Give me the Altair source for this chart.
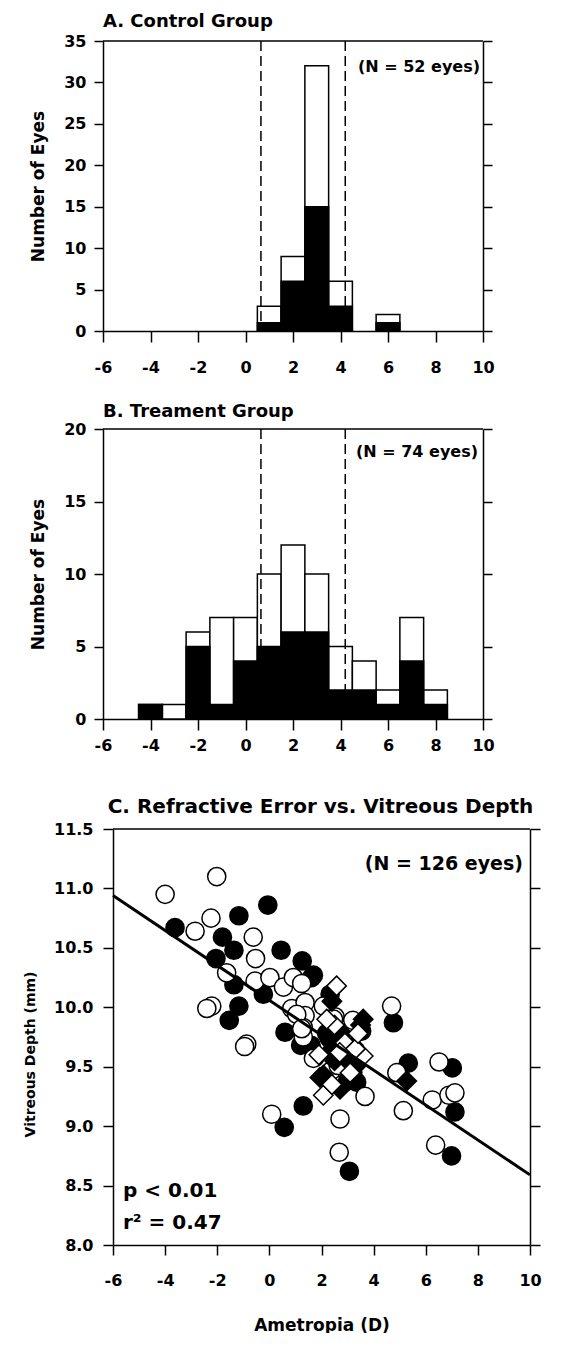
import altair as alt
import pandas as pd

FONT = "DejaVu Sans"

# ---------------- data ----------------
x_ticks = [-6, -4, -2, 0, 2, 4, 6, 8, 10]
cut_lines = [0.65, 4.2]

# Panel A: control group histogram (bin centres, total eyes, black part)
a_centers = [1, 2, 3, 4, 6]
a_total = [3, 9, 32, 6, 2]
a_black = [1, 6, 15, 3, 1]
a_yticks = [0, 5, 10, 15, 20, 25, 30, 35]

# Panel B: treatment group histogram
b_centers = [-4, -3, -2, -1, 0, 1, 2, 3, 4, 5, 6, 7, 8]
b_total = [1, 1, 6, 7, 7, 10, 12, 10, 5, 4, 2, 7, 2]
b_black = [1, 0, 5, 1, 4, 5, 6, 6, 2, 2, 1, 4, 1]
b_yticks = [0, 5, 10, 15, 20]

# Panel C: scatter
c_yticks = [8.0, 8.5, 9.0, 9.5, 10.0, 10.5, 11.0, 11.5]
fc_x = [-3.62, -1.17, -0.06, -1.80, -1.36, -2.05, 0.45, 1.26, 1.62, -1.36, -0.23, 2.33,
        -1.17, -1.54, 4.76, 5.33, 7.02, 0.60, 2.20, 3.54, 1.69, 2.26, 1.30, 0.57, 3.07,
        3.35, 7.12, 6.99, 1.60, 2.40, 1.20, 3.00, 2.30, 2.90, 3.20]
fc_y = [10.67, 10.77, 10.86, 10.59, 10.48, 10.41, 10.48, 10.39, 10.25, 10.19, 10.11, 10.11,
        10.01, 9.89, 9.87, 9.53, 9.49, 9.79, 9.78, 9.80, 10.27, 9.78, 9.17, 8.99, 8.62,
        9.37, 9.12, 8.75, 9.68, 9.63, 9.68, 9.38, 9.74, 9.55, 9.45]
oc_x = [-4.00, -2.02, -2.85, -2.24, -0.62, -0.53, -1.64, -0.55, 0.02, 0.54, 0.92, 1.24,
        -2.21, -2.40, -0.87, -0.95, 4.69, 6.51, 4.89, 0.86, 1.37, 2.07, 2.52, 3.20, 1.37,
        1.30, 1.30, 1.05, 2.46, 1.24, 1.75, 1.69, 2.58, 2.39, 2.64, 0.09, 2.71, 2.68, 3.67,
        5.14, 6.25, 6.89, 7.12, 6.38]
oc_y = [10.95, 11.10, 10.64, 10.75, 10.59, 10.41, 10.29, 10.22, 10.25, 10.17, 10.25, 10.20,
        10.01, 9.99, 9.69, 9.67, 10.01, 9.54, 9.45, 9.99, 10.04, 10.01, 9.92, 9.89, 9.93,
        9.83, 9.75, 9.94, 9.90, 9.82, 9.58, 9.57, 9.52, 9.47, 9.51, 9.10, 9.06, 8.78, 9.25,
        9.13, 9.22, 9.26, 9.28, 8.84]
fd_x = [2.07, 1.94, 2.71, 3.22, 3.50, 2.80, 3.30, 5.27, 2.50, 3.00, 2.40, 3.60]
fd_y = [9.43, 9.41, 9.31, 9.68, 9.85, 9.78, 9.50, 9.38, 9.55, 9.55, 10.05, 9.90]
od_x = [2.58, 2.07, 3.60, 2.50, 2.90, 3.30, 2.20, 3.10, 2.70, 1.90, 3.40, 2.40]
od_y = [10.18, 9.26, 9.59, 9.85, 9.70, 9.65, 9.90, 9.45, 9.62, 9.60, 9.78, 9.35]
fit_x = [-6, 10]
fit_y = [10.94, 8.59]

HYPHEN = "replace(datum.label, '\u2212', '-')"


def ax(values, title=None, orient=None, labels=True, tick=10, pad=8, fmt=None, **kw):
    d = dict(values=values, title=title, grid=False, ticks=True, tickSize=tick,
             tickWidth=1.5, tickColor="black", domainColor="black", domainWidth=1.5,
             labelFont=FONT, labelFontSize=16, labelFontWeight="bold", labelColor="black",
             labelPadding=pad, labels=labels, labelFlush=False, labelOverlap=False,
             labelBound=False, labelExpr=HYPHEN)
    if orient:
        d["orient"] = orient
    if fmt:
        d["format"] = fmt
    d.update(kw)
    return alt.Axis(**d)


one_row = pd.DataFrame({"t": ["."]})


def top_border(x0, x1):
    return alt.Chart(one_row).mark_rule(color="black", strokeWidth=1.5).encode(
        x=alt.value(x0), x2=alt.value(x1), y=alt.value(0))


def anchor(h):
    return alt.Chart(one_row).mark_text(opacity=0, align="left", fontSize=10).encode(
        text="t:N", x=alt.value(-95), y=alt.value(h / 2))


def hist_panel(centers, total, black, ymax, yticks, title, toff, ntext, nx, ny, xpad):
    W, H = 380, 290
    df = pd.DataFrame({"c": centers, "total": total, "black": black})
    df["lo"] = df["c"] - 0.5
    df["hi"] = df["c"] + 0.5
    xs = alt.Scale(domain=[-6, 10], nice=False, zero=False)
    ys = alt.Scale(domain=[0, ymax], nice=False, zero=True)
    xa = ax(x_ticks, pad=xpad, tick=11)
    ya = ax(yticks, title="Number of Eyes", tick=9, pad=8, titleX=-56, titleY=H / 2,
            titleFont=FONT, titleFontSize=17, titleFontWeight="bold", titleColor="black",
            titleAngle=270, titleBaseline="bottom", titleAlign="center")
    base = alt.Chart(df)
    white = base.mark_rect(fill="white", stroke="black", strokeWidth=1.5).encode(
        x=alt.X("lo:Q", scale=xs, axis=xa), x2="hi:Q",
        y=alt.Y("total:Q", scale=ys, axis=ya), y2=alt.datum(0))
    blk = base.transform_filter("datum.black > 0").mark_rect(
        fill="black", stroke="black", strokeWidth=1.5).encode(
        x=alt.X("lo:Q", scale=xs, axis=xa), x2="hi:Q",
        y=alt.Y("black:Q", scale=ys, axis=ya), y2=alt.datum(0))
    rules = alt.Chart(pd.DataFrame({"x": cut_lines})).mark_rule(
        color="black", strokeWidth=1.5, strokeDash=[10, 5]).encode(
        x=alt.X("x:Q", scale=xs, axis=xa), y=alt.value(0), y2=alt.value(H))
    ntxt = alt.Chart(pd.DataFrame({"t": [ntext]})).mark_text(
        font=FONT, fontSize=16, fontWeight="bold", align="right", baseline="alphabetic",
        color="black").encode(text="t:N", x=alt.value(nx), y=alt.value(ny))
    right = base.mark_point(opacity=0).encode(
        y=alt.Y("total:Q", scale=ys, axis=ax(yticks, orient="right", labels=False, tick=9)))
    inner = alt.layer(white, blk, rules, ntxt, top_border(0, W), anchor(H))
    return alt.layer(inner, right).resolve_scale(y="independent").properties(
        width=W, height=H,
        title=alt.TitleParams(title, anchor="start", frame="group", fontSize=18, offset=toff,
                              font=FONT, fontWeight="bold", color="black"))


panel_a = hist_panel(a_centers, a_total, a_black, 35, a_yticks, "A. Control Group", 2,
                     "(N = 52 eyes)", 377, 31, 17)
panel_b = hist_panel(b_centers, b_total, b_black, 20, b_yticks, "B. Treament Group", 0,
                     "(N = 74 eyes)", 375, 28, 7)

# ---------------- panel C ----------------
WC, HC = 427, 416
XL = 10  # panel C's plot starts 10 px right of the panels above
xs_c = alt.Scale(domain=[-6, 10], nice=False, zero=False, range=[XL, WC])
ys_c = alt.Scale(domain=[8, 11.5], nice=False, zero=False)
xa_c = ax(x_ticks, title="Ametropia (D)", pad=17, tick=10, titleFont=FONT, titleFontSize=17,
          titleFontWeight="bold", titleColor="black", titlePadding=29)
ya_c = ax(c_yticks, title="Vitreous Depth (mm)", pad=10, tick=10, fmt=".1f", offset=-XL,
          titleX=-76, titleY=225, titleFont=FONT, titleFontSize=14, titleFontWeight="bold",
          titleColor="black", titleAngle=270, titleBaseline="bottom", titleAlign="center")


def pts(xv, yv, shape, fill, size):
    d = pd.DataFrame({"x": xv, "y": yv})
    return alt.Chart(d).mark_point(shape=shape, filled=True, fill=fill, stroke="black",
                                   strokeWidth=1.5, size=size, opacity=1).encode(
        x=alt.X("x:Q", scale=xs_c, axis=xa_c), y=alt.Y("y:Q", scale=ys_c, axis=ya_c))


fit_df = pd.DataFrame({"x": fit_x, "y": fit_y})
fit_line = alt.Chart(fit_df).mark_line(color="black", strokeWidth=3).encode(
    x=alt.X("x:Q", scale=xs_c, axis=xa_c), y=alt.Y("y:Q", scale=ys_c, axis=ya_c))
c_txt = alt.Chart(pd.DataFrame({"t": ["(N = 126 eyes)"]})).mark_text(
    font=FONT, fontSize=19, fontWeight="bold", align="right", baseline="alphabetic",
    color="black").encode(text="t:N", x=alt.value(420), y=alt.value(41))
c_stats = alt.Chart(pd.DataFrame({"t": ["p < 0.01", "r\u00b2 = 0.47"], "yy": [368, 400]})).mark_text(
    font=FONT, fontSize=20, fontWeight="bold", align="left", baseline="alphabetic",
    color="black").encode(text="t:N", x=alt.value(20), y=alt.Y("yy:Q", scale=None))
c_right = alt.Chart(fit_df).mark_point(opacity=0).encode(
    y=alt.Y("y:Q", scale=ys_c, axis=ax(c_yticks, orient="right", labels=False, tick=10)))

c_inner = alt.layer(
    pts(fc_x, fc_y, "circle", "black", 330),
    pts(oc_x, oc_y, "circle", "white", 330),
    pts(fd_x, fd_y, "diamond", "black", 380),
    pts(od_x, od_y, "diamond", "white", 380),
    fit_line, c_txt, c_stats, top_border(XL, WC), anchor(HC))
panel_c = alt.layer(c_inner, c_right).resolve_scale(y="independent").properties(
    width=WC, height=HC,
    title=alt.TitleParams("C. Refractive Error vs. Vitreous Depth", anchor="middle",
                          frame="group", fontSize=20, offset=4, dx=4, font=FONT,
                          fontWeight="bold", color="black"))

chart = alt.vconcat(panel_a, alt.vconcat(panel_b, panel_c, spacing=44), spacing=28).configure(
    padding={"left": 0, "top": 5, "right": 0, "bottom": 0}
).configure_view(stroke="transparent", strokeWidth=0)

chart.save("out.html", embed_options={"renderer": "svg", "actions": False})
